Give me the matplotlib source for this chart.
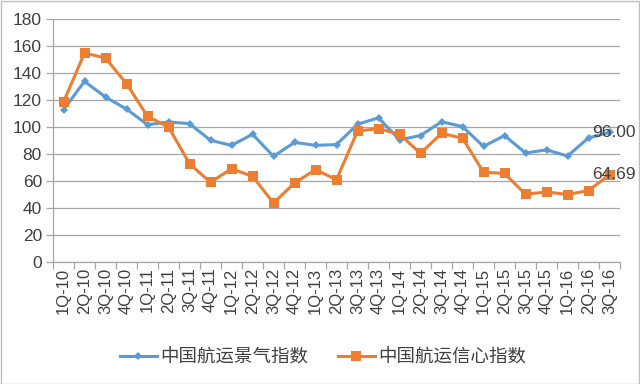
import matplotlib
matplotlib.use("Agg")
import matplotlib.pyplot as plt
from matplotlib.patches import Rectangle

plt.rcParams['font.family'] = ['Liberation Sans', 'Noto Sans CJK SC', 'DejaVu Sans']

quarters = ["1Q-10", "2Q-10", "3Q-10", "4Q-10",
            "1Q-11", "2Q-11", "3Q-11", "4Q-11",
            "1Q-12", "2Q-12", "3Q-12", "4Q-12",
            "1Q-13", "2Q-13", "3Q-13", "4Q-13",
            "1Q-14", "2Q-14", "3Q-14", "4Q-14",
            "1Q-15", "2Q-15", "3Q-15", "4Q-15",
            "1Q-16", "2Q-16", "3Q-16"]

prosperity = [112.8, 133.8, 122.2, 113.3, 101.7, 103.7, 102.5, 90.1, 86.4, 94.6,
              78.3, 88.6, 86.4, 87.0, 102.0, 106.8, 90.5, 93.7, 103.9, 100.3,
              85.6, 93.7, 80.7, 83.1, 78.5, 91.9, 96.00]
confidence = [118.5, 154.8, 151.1, 132.1, 107.9, 100.0, 72.8, 59.0, 69.1, 63.5,
              43.7, 58.5, 68.4, 61.0, 97.0, 98.8, 94.6, 80.5, 95.3, 91.7,
              66.5, 65.6, 50.2, 51.9, 50.0, 52.9, 64.69]

name_prosperity = "中国航运景气指数"
name_confidence = "中国航运信心指数"
yticks = [0, 20, 40, 60, 80, 100, 120, 140, 160, 180]

blue = "#5B9BD5"
orange = "#ED7D31"
grid_c = "#A6A6A6"
text_c = "#404040"

fig = plt.figure(figsize=(6.4, 3.84), dpi=100)
fig.patch.set_facecolor("white")
ax = fig.add_axes([53/640, 122/384, 567/640, 243/384])

x = list(range(len(quarters)))
ax.plot(x, prosperity, color=blue, lw=2.2, marker="D", markersize=4.5,
        markeredgewidth=0, label=name_prosperity, zorder=3)
ax.plot(x, confidence, color=orange, lw=2.2, marker="s", markersize=7,
        markeredgewidth=0, label=name_confidence, zorder=3)

ax.set_xlim(-0.5, len(quarters) - 0.5)
ax.set_ylim(0, 180)
ax.set_yticks(yticks)
ax.set_yticklabels([str(v) for v in yticks], fontsize=12.5, color=text_c)
ax.yaxis.grid(True, color=grid_c, lw=0.9)
ax.set_axisbelow(True)

ax.set_xticks(x)
ax.set_xticklabels(quarters, rotation=90, fontsize=12, color=text_c)
ax.set_xticks([i - 0.5 for i in range(len(quarters) + 1)], minor=True)
ax.tick_params(axis="x", which="major", length=0, pad=4)
ax.tick_params(axis="x", which="minor", length=5, color=grid_c, width=0.9)
ax.tick_params(axis="y", length=5, color=grid_c, width=0.9, pad=3)

for s in ["top", "right"]:
    ax.spines[s].set_visible(False)
ax.spines["left"].set_color(grid_c)
ax.spines["bottom"].set_color(grid_c)
ax.spines["left"].set_linewidth(0.9)
ax.spines["bottom"].set_linewidth(0.9)

ax.annotate(f"{prosperity[-1]:.2f}", (x[-1], prosperity[-1]), xytext=(3, 0),
            textcoords="offset points", ha="center", va="center",
            fontsize=12.5, color=text_c, zorder=4)
ax.annotate(f"{confidence[-1]:.2f}", (x[-1], confidence[-1]), xytext=(3, 0),
            textcoords="offset points", ha="center", va="center",
            fontsize=12.5, color=text_c, zorder=4)

leg = fig.legend(loc="center", bbox_to_anchor=(0.505, 0.068), ncol=2,
                 frameon=False, prop={"family": "Noto Sans CJK SC", "size": 13.3},
                 handlelength=2.0, handletextpad=0.2, columnspacing=1.6)
for t in leg.get_texts():
    t.set_color(text_c)

fig.patches.append(Rectangle((0.5/640, 0.5/384), 638.5/640, 382.5/384,
                             transform=fig.transFigure, fill=False,
                             edgecolor="#BFBFBF", lw=1))

fig.savefig("out.png", dpi=100)
